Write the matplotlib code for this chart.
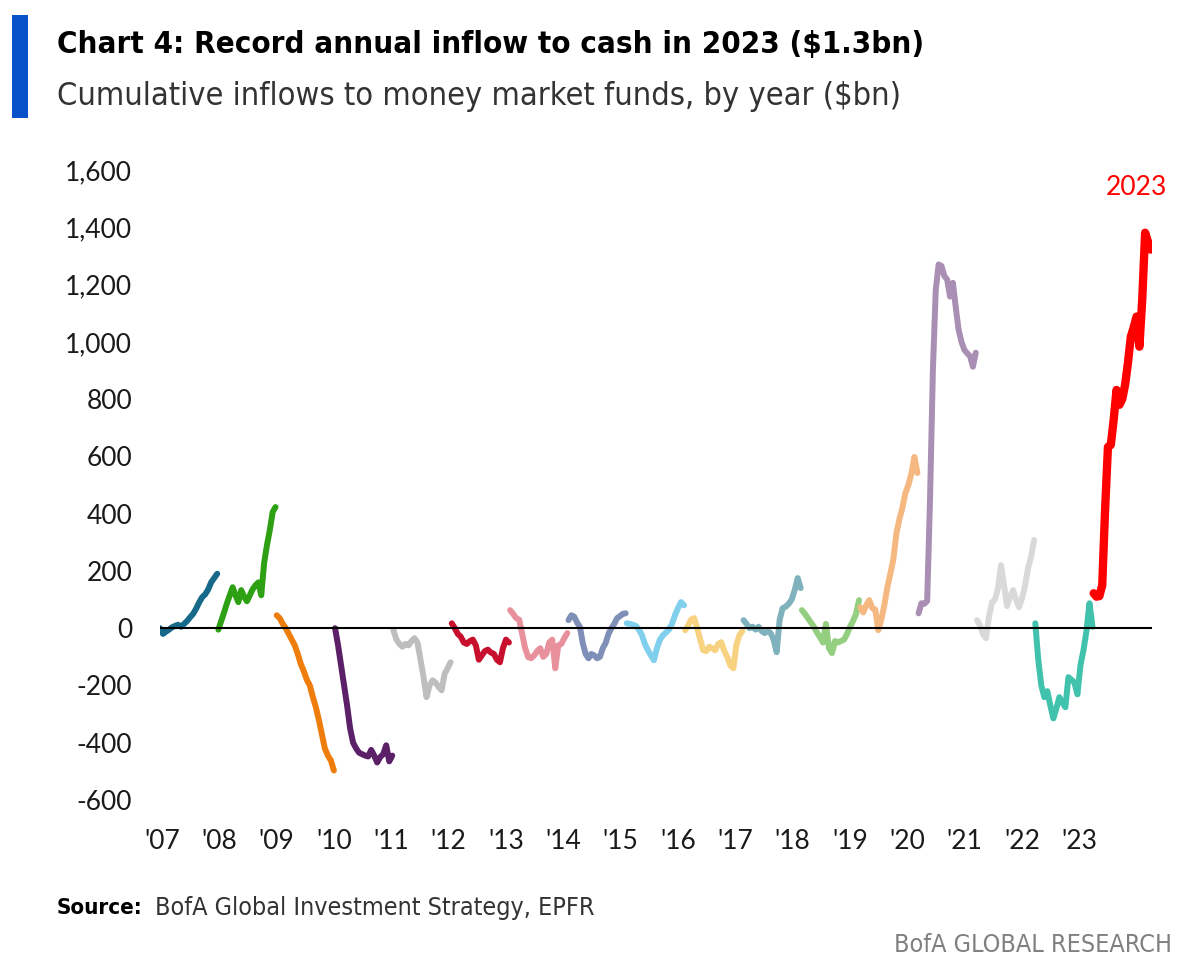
import matplotlib
matplotlib.use("Agg")
import matplotlib.pyplot as plt
from matplotlib.patches import Rectangle
from matplotlib import font_manager as fm
import numpy as np

# ---- data (cumulative inflows, $bn; weekly-ish samples within each year) ----
years = ["'07", "'08", "'09", "'10", "'11", "'12", "'13", "'14", "'15", "'16",
         "'17", "'18", "'19", "'20", "'21", "'22", "'23"]

y07 = [0, -20, -12, -5, 3, 8, 12, 5, 15, 25, 38, 50, 68, 90, 108, 118, 135, 160, 175, 190]
y08 = [-5, 25, 55, 87, 115, 143, 115, 91, 133, 110, 94, 115, 136, 150, 160, 115, 227, 290, 343, 406, 423]
y09 = [45, 35, 15, 0, -20, -40, -60, -90, -125, -150, -180, -200, -240, -276, -320, -370, -420, -445, -462, -497]
y10 = [0, -60, -130, -200, -270, -350, -400, -420, -435, -440, -445, -448, -425, -445, -469, -450, -440, -409, -465, -445]
y11 = [-7, -40, -55, -65, -55, -60, -45, -35, -50, -110, -170, -241, -200, -182, -190, -205, -217, -160, -140, -119]
y12 = [17, 0, -20, -30, -50, -55, -45, -40, -60, -110, -95, -80, -75, -85, -90, -110, -119, -70, -40, -50]
y13 = [63, 50, 35, 30, -20, -70, -101, -105, -95, -80, -70, -100, -90, -50, -40, -140, -60, -55, -35, -17]
y14 = [28, 45, 40, 20, 4, -52, -90, -105, -90, -95, -105, -100, -70, -52, -20, 0, 15, 35, 42, 50, 52]
y15 = [17, 15, 12, 8, -5, -24, -55, -77, -95, -112, -70, -40, -25, -15, -5, 15, 45, 70, 91, 80]
y16 = [-7, 10, 30, 35, 0, -40, -77, -80, -65, -70, -77, -55, -49, -80, -101, -130, -140, -60, -25, -10]
y17 = [28, 15, 0, 5, -5, 5, -10, -17, -10, -17, -40, -84, 30, 70, 75, 85, 100, 133, 175, 140]
y18 = [63, 50, 35, 20, 5, -15, -31, -50, 15, -70, -87, -45, -50, -45, -40, -20, 5, 25, 50, 98]
y19 = [73, 55, 80, 98, 70, 65, -7, 30, 80, 143, 190, 240, 330, 380, 420, 472, 500, 540, 598, 542]
y20 = [52, 87, 85, 95, 450, 900, 1180, 1270, 1265, 1230, 1217, 1158, 1206, 1120, 1042, 1000, 972, 960, 950, 913, 962]
y21 = [28, 10, -20, -35, 40, 90, 100, 140, 220, 150, 77, 110, 133, 100, 73, 105, 150, 210, 250, 308]
y22 = [17, -112, -200, -241, -220, -270, -315, -280, -241, -260, -276, -171, -180, -190, -231, -130, -77, -10, 87, 5]
y23 = [122, 110, 112, 150, 413, 633, 640, 727, 832, 780, 800, 850, 927, 1018, 1050, 1088, 983, 1150, 1381, 1350, 1322]

series = [y07, y08, y09, y10, y11, y12, y13, y14, y15, y16, y17, y18, y19, y20, y21, y22, y23]
colors = ["#17698A", "#2EA014", "#EF7D0C", "#5B2068", "#BEBEBE", "#C8102E", "#E8919D",
          "#7F8FB7", "#80CFEC", "#F7D281", "#80B2BE", "#94CE80", "#F4B880", "#A98FB4",
          "#D9D9D9", "#40C2AD", "#FF0000"]

yticks = [-600, -400, -200, 0, 200, 400, 600, 800, 1000, 1200, 1400, 1600]
yticklabels = ["-600", "-400", "-200", "0", "200", "400", "600", "800", "1,000", "1,200", "1,400", "1,600"]

# ---- figure ----
W, H = 1200, 977
fig = plt.figure(figsize=(W / 100, H / 100), dpi=100)
fig.patch.set_facecolor("white")

ax = fig.add_axes([160 / W, 177 / H, (1152 - 160) / W, 630 / H])
ax.set_xlim(0, 17)
ax.set_ylim(-600, 1600)

for i, (vals, c) in enumerate(zip(series, colors)):
    n = len(vals)
    x = i + np.linspace(0, 0.98, n)
    lw = 6.0 if i == len(series) - 1 else 4.3
    ax.plot(x, vals, color=c, lw=lw, solid_joinstyle="round", solid_capstyle="round", zorder=2)

ax.axhline(0, color="black", lw=1.5, zorder=3)

for s in ax.spines.values():
    s.set_visible(False)

tickfont = "Lato"
ax.set_yticks(yticks)
ax.set_yticklabels(yticklabels, fontsize=19, fontfamily=tickfont, color="#1a1a1a")
xt = np.arange(len(years)) * 0.983 + 0.03
ax.set_xticks(xt)
ax.set_xticklabels(years, fontsize=19, fontfamily=tickfont, color="#1a1a1a")
ax.tick_params(axis="both", length=0)
ax.tick_params(axis="y", pad=20)
ax.tick_params(axis="x", pad=21)

ax.text(16.74, 1540, "2023", color="#FF0000", fontsize=19, fontfamily=tickfont,
        ha="center", va="center")

# ---- header ----
fig.patches.append(Rectangle((12 / W, 1 - 118 / H), 16 / W, 103 / H,
                             transform=fig.transFigure, facecolor="#0A52C9", edgecolor="none"))
cond_bold = fm.FontProperties(family="DejaVu Sans", stretch="condensed", weight="bold", size=22.4)
cond_reg = fm.FontProperties(family="DejaVu Sans", stretch="condensed", weight="normal", size=23.3)
fig.text(57 / W, 1 - 45 / H, "Chart 4: Record annual inflow to cash in 2023 ($1.3bn)",
         fontproperties=cond_bold, color="black", va="center", ha="left")
fig.text(57 / W, 1 - 97 / H, "Cumulative inflows to money market funds, by year ($bn)",
         fontproperties=cond_reg, color="#333333", va="center", ha="left")

# ---- footer ----
src_bold = fm.FontProperties(family="DejaVu Sans", stretch="condensed", weight="bold", size=16)
src_reg = fm.FontProperties(family="DejaVu Sans", stretch="condensed", weight="normal", size=18)
fig.text(57 / W, 1 - 908 / H, "Source:", fontproperties=src_bold,
         color="black", va="center", ha="left")
fig.text(155 / W, 1 - 908 / H, "BofA Global Investment Strategy, EPFR",
         fontproperties=src_reg, color="#333333", va="center", ha="left")
fig.text(1172 / W, 1 - 945 / H, "BofA GLOBAL RESEARCH", fontproperties=src_reg,
         color="#808080", va="center", ha="right")

fig.savefig("out.png", dpi=100, facecolor="white")
